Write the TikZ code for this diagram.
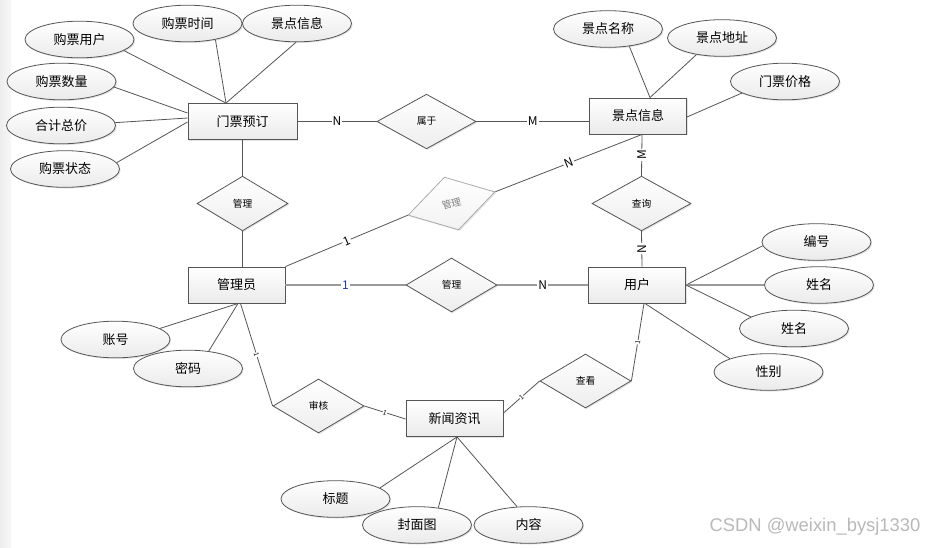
\documentclass[tikz,border=0pt]{standalone}
\usepackage{fontspec}
\setmainfont{Noto Sans CJK SC}
\newfontfamily\wmfont{Liberation Sans}
\usetikzlibrary{shapes.geometric,shadows,calc}
\definecolor{edge}{HTML}{555555}
\definecolor{thkgray}{HTML}{9A9A9A}
\definecolor{blueone}{RGB}{30,60,150}
\begin{document}
\begin{tikzpicture}[x=0.75pt,y=-0.75pt,
  shd/.style={drop shadow={opacity=0.22,shadow xshift=0.9pt,shadow yshift=-0.9pt}},
  ent/.style={rectangle,draw=edge,line width=0.7pt,top color=white,bottom color=gray!16,
    minimum width=72.75pt,minimum height=27pt,inner sep=0pt,shd,
    font=\fontsize{9.75}{10}\selectfont},
  attr/.style={ellipse,draw=edge,line width=0.6pt,top color=white,bottom color=gray!16,
    minimum width=81.75pt,minimum height=27.5pt,inner sep=0pt,shd,
    font=\fontsize{9.75}{10}\selectfont},
  rel/.style={diamond,draw=edge,line width=0.6pt,top color=white,bottom color=gray!14,
    minimum width=68.25pt,minimum height=41pt,inner sep=0pt,shd,
    font=\fontsize{7.3}{8}\selectfont},
  ln/.style={draw=edge,line width=0.6pt},
  thk/.style={draw=thkgray,line width=1.3pt},
  lab/.style={fill=white,inner sep=0.8pt,font=\fontsize{9}{9}\selectfont},
  tinylab/.style={fill=white,inner sep=0.3pt,sloped,font=\fontsize{5}{5}\selectfont}]

\useasboundingbox (0,0) rectangle (939,547);
\fill[white] (0,0) rectangle (939,547);
\shade[left color=gray!14,right color=gray!6] (0,0) rectangle (11,547);

% entities
\node[ent,minimum width=81.75pt] (mp) at (242.5,121.5) {门票预订};
\node[ent] (jd) at (638,116) {景点信息};
\node[ent] (gly) at (236.5,285) {管理员};
\node[ent] (yh) at (637,285) {用户};
\node[ent] (xw) at (454.5,418.5) {新闻资讯};

% attributes
\node[attr] (a1) at (79.5,39.5) {购票用户};
\node[attr] (a2) at (187.5,23.5) {购票时间};
\node[attr] (a3) at (297,23.5) {景点信息};
\node[attr] (a4) at (61.5,81.5) {购票数量};
\node[attr] (a5) at (61,125.5) {合计总价};
\node[attr] (a6) at (65,169) {购票状态};
\node[attr] (b1) at (608,29) {景点名称};
\node[attr] (b2) at (722,38) {景点地址};
\node[attr] (b3) at (785,81.5) {门票价格};
\node[attr] (c1) at (816.5,242) {编号};
\node[attr] (c2) at (819,285) {姓名};
\node[attr] (c3) at (794,328.5) {姓名};
\node[attr] (c4) at (768.5,372) {性别};
\node[attr] (d1) at (115.5,339.5) {账号};
\node[attr] (d2) at (188,368.5) {密码};
\node[attr] (e1) at (335.5,499) {标题};
\node[attr] (e2) at (417,525) {封面图};
\node[attr] (e3) at (528.5,525) {内容};

% relationships
\node[rel,minimum width=74.25pt] (r1) at (426.5,121.5) {属于};
\node[rel] (r2) at (242.5,203.5) {管理};
\node[rel,rotate=15,draw=black!33,text=black!50,top color=white,bottom color=gray!10,
      minimum width=67.5pt] (r3) at (451.5,203.5) {管理};
\node[rel,minimum width=74.25pt] (r4) at (641.5,203.5) {查询};
\node[rel,minimum height=40.5pt] (r5) at (451.5,285) {管理};
\node[rel,minimum height=40.5pt] (r6) at (318.5,406) {审核};
\node[rel,minimum height=40.5pt] (r7) at (585.5,381) {查看};

% connection points on entities
\coordinate (mpT) at ($(mp.north)+(-16.5,0)$);
\coordinate (jdT) at ($(jd.north)+(12,0)$);
\coordinate (jdB) at ($(jd.south)+(4,0)$);
\coordinate (glyB) at ($(gly.south)+(1.5,0)$);
\coordinate (glyB2) at ($(gly.south)+(4,0)$);
\coordinate (yhT) at ($(yh.north)+(5,0)$);
\coordinate (yhB) at ($(yh.south)+(7,0)$);
\coordinate (xwB) at ($(xw.south)+(2.5,0)$);

% attribute lines
\draw[ln] (a1.-14) -- (mpT);
\draw[ln] (a2.-30) -- (mpT);
\draw[ln] (a3.-93) -- (mpT);
\draw[ln] (a4.-6) -- ($(mp.west)+(0,-8.5)$);
\draw[ln] (a5.3) -- ($(mp.west)+(0,-3.5)$);
\draw[ln] (a6.7) -- ($(mp.west)+(0,0.5)$);
\draw[ln] (b1.-39) -- (jdT);
\draw[ln] (b2.-147) -- (jdT);
\draw[ln] (b3.-165) -- ($(jd.east)+(0,1)$);
\draw[ln] (c1.-176) -- (yh.east);
\draw[thk] (c2.180) -- (yh.east);
\draw[ln] (c3.165) -- (yh.east);
\draw[ln] (c4.161) -- ($(yh.south)+(8,0)$);
\draw[ln] (d1.14) -- (glyB);
\draw[ln] (d2.40) -- (glyB);
\draw[ln] (e1.14) -- (xwB);
\draw[ln] (e2.39) -- (xwB);
\draw[ln] (e3.122) -- (xwB);

% relationship lines
\draw[ln] (mp.east) -- node[lab]{N} (r1.west);
\draw[ln] (r1.east) -- node[lab]{M} (r1.east -| jd.west);
\draw[ln] (mp.south) -- (r2.north);
\draw[ln] (r2.south) -- (r2.south |- gly.north);
\draw[ln] (gly.north east) -- node[lab,sloped]{1} (r3.west);
\draw[ln] (r3.east) -- node[lab,sloped]{N} (jdB);
\draw[ln] (jdB) -- node[lab,rotate=90]{M} (r4.north);
\draw[ln] (r4.south) -- node[lab,rotate=90]{N} (yhT);
\draw[thk] (gly.east) -- node[lab,text=blueone]{1} (r5.west);
\draw[thk] (r5.east) -- node[lab]{N} (yh.west);
\draw[ln] (glyB2) -- node[tinylab]{1} (r6.west);
\draw[ln] (r6.east) -- node[tinylab]{1} ($(xw.west)+(0,0.5)$);
\draw[ln] ($(xw.east)+(0,-5.5)$) -- node[tinylab]{1} (r7.west);
\draw[ln] (r7.east) -- node[tinylab]{1} (yhB);

% watermark
\node[font=\wmfont\fontsize{13.8}{14}\selectfont,text=gray!55] (wm) at (815,527) {CSDN @weixin\_bysj1330};
\end{tikzpicture}
\end{document}
